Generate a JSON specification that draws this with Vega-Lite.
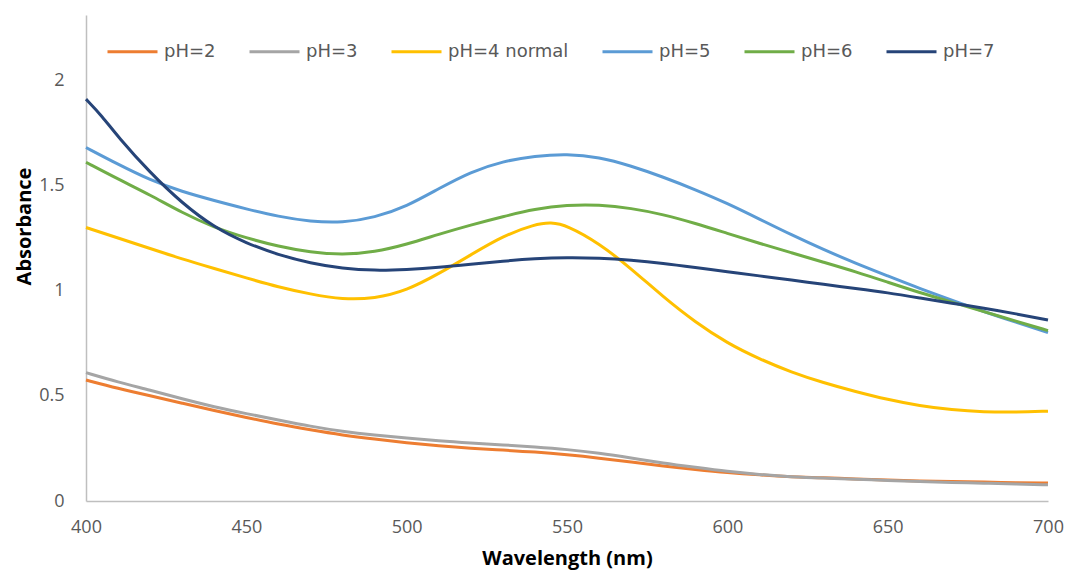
{
  "$schema": "https://vega.github.io/schema/vega-lite/v6.json",
  "width": 962,
  "height": 486,
  "autosize": "none",
  "padding": {"left": 86, "top": 15, "right": 21, "bottom": 71},
  "background": "white",
  "config": {"view": {"stroke": null}},
  "datasets": {
    "spectra": [
      {"s":"pH=2","w":400,"a":0.575},{"s":"pH=2","w":410,"a":0.535},{"s":"pH=2","w":420,"a":0.5},{"s":"pH=2","w":430,"a":0.465},{"s":"pH=2","w":440,"a":0.43},{"s":"pH=2","w":450,"a":0.397},{"s":"pH=2","w":460,"a":0.365},{"s":"pH=2","w":470,"a":0.338},{"s":"pH=2","w":480,"a":0.313},{"s":"pH=2","w":490,"a":0.294},{"s":"pH=2","w":500,"a":0.277},{"s":"pH=2","w":510,"a":0.262},{"s":"pH=2","w":520,"a":0.25},{"s":"pH=2","w":530,"a":0.242},{"s":"pH=2","w":540,"a":0.233},{"s":"pH=2","w":550,"a":0.22},{"s":"pH=2","w":560,"a":0.204},{"s":"pH=2","w":570,"a":0.185},{"s":"pH=2","w":580,"a":0.166},{"s":"pH=2","w":590,"a":0.15},{"s":"pH=2","w":600,"a":0.135},{"s":"pH=2","w":610,"a":0.124},{"s":"pH=2","w":620,"a":0.115},{"s":"pH=2","w":630,"a":0.11},{"s":"pH=2","w":640,"a":0.105},{"s":"pH=2","w":650,"a":0.1},{"s":"pH=2","w":660,"a":0.095},{"s":"pH=2","w":670,"a":0.092},{"s":"pH=2","w":680,"a":0.09},{"s":"pH=2","w":690,"a":0.087},{"s":"pH=2","w":700,"a":0.085},
      {"s":"pH=3","w":400,"a":0.61},{"s":"pH=3","w":410,"a":0.565},{"s":"pH=3","w":420,"a":0.527},{"s":"pH=3","w":430,"a":0.485},{"s":"pH=3","w":440,"a":0.447},{"s":"pH=3","w":450,"a":0.415},{"s":"pH=3","w":460,"a":0.385},{"s":"pH=3","w":470,"a":0.355},{"s":"pH=3","w":480,"a":0.33},{"s":"pH=3","w":490,"a":0.313},{"s":"pH=3","w":500,"a":0.3},{"s":"pH=3","w":510,"a":0.285},{"s":"pH=3","w":520,"a":0.275},{"s":"pH=3","w":530,"a":0.267},{"s":"pH=3","w":540,"a":0.257},{"s":"pH=3","w":550,"a":0.245},{"s":"pH=3","w":560,"a":0.228},{"s":"pH=3","w":570,"a":0.205},{"s":"pH=3","w":580,"a":0.18},{"s":"pH=3","w":590,"a":0.16},{"s":"pH=3","w":600,"a":0.14},{"s":"pH=3","w":610,"a":0.126},{"s":"pH=3","w":620,"a":0.115},{"s":"pH=3","w":630,"a":0.109},{"s":"pH=3","w":640,"a":0.104},{"s":"pH=3","w":650,"a":0.097},{"s":"pH=3","w":660,"a":0.092},{"s":"pH=3","w":670,"a":0.088},{"s":"pH=3","w":680,"a":0.085},{"s":"pH=3","w":690,"a":0.081},{"s":"pH=3","w":700,"a":0.077},
      {"s":"pH=4 normal","w":400,"a":1.3},{"s":"pH=4 normal","w":410,"a":1.25},{"s":"pH=4 normal","w":420,"a":1.2},{"s":"pH=4 normal","w":430,"a":1.15},{"s":"pH=4 normal","w":440,"a":1.105},{"s":"pH=4 normal","w":450,"a":1.06},{"s":"pH=4 normal","w":460,"a":1.017},{"s":"pH=4 normal","w":470,"a":0.983},{"s":"pH=4 normal","w":480,"a":0.958},{"s":"pH=4 normal","w":490,"a":0.962},{"s":"pH=4 normal","w":500,"a":1.0},{"s":"pH=4 normal","w":510,"a":1.08},{"s":"pH=4 normal","w":520,"a":1.17},{"s":"pH=4 normal","w":530,"a":1.26},{"s":"pH=4 normal","w":540,"a":1.315},{"s":"pH=4 normal","w":545,"a":1.325},{"s":"pH=4 normal","w":550,"a":1.31},{"s":"pH=4 normal","w":560,"a":1.225},{"s":"pH=4 normal","w":570,"a":1.105},{"s":"pH=4 normal","w":580,"a":0.97},{"s":"pH=4 normal","w":590,"a":0.85},{"s":"pH=4 normal","w":600,"a":0.75},{"s":"pH=4 normal","w":610,"a":0.675},{"s":"pH=4 normal","w":620,"a":0.612},{"s":"pH=4 normal","w":630,"a":0.562},{"s":"pH=4 normal","w":640,"a":0.52},{"s":"pH=4 normal","w":650,"a":0.482},{"s":"pH=4 normal","w":660,"a":0.452},{"s":"pH=4 normal","w":670,"a":0.433},{"s":"pH=4 normal","w":680,"a":0.423},{"s":"pH=4 normal","w":690,"a":0.422},{"s":"pH=4 normal","w":700,"a":0.427},
      {"s":"pH=5","w":400,"a":1.68},{"s":"pH=5","w":410,"a":1.6},{"s":"pH=5","w":420,"a":1.525},{"s":"pH=5","w":430,"a":1.47},{"s":"pH=5","w":440,"a":1.428},{"s":"pH=5","w":450,"a":1.388},{"s":"pH=5","w":460,"a":1.352},{"s":"pH=5","w":470,"a":1.328},{"s":"pH=5","w":480,"a":1.322},{"s":"pH=5","w":490,"a":1.347},{"s":"pH=5","w":500,"a":1.4},{"s":"pH=5","w":510,"a":1.485},{"s":"pH=5","w":520,"a":1.565},{"s":"pH=5","w":530,"a":1.615},{"s":"pH=5","w":540,"a":1.64},{"s":"pH=5","w":550,"a":1.65},{"s":"pH=5","w":560,"a":1.635},{"s":"pH=5","w":570,"a":1.593},{"s":"pH=5","w":580,"a":1.54},{"s":"pH=5","w":590,"a":1.48},{"s":"pH=5","w":600,"a":1.415},{"s":"pH=5","w":610,"a":1.34},{"s":"pH=5","w":620,"a":1.265},{"s":"pH=5","w":630,"a":1.195},{"s":"pH=5","w":640,"a":1.13},{"s":"pH=5","w":650,"a":1.07},{"s":"pH=5","w":660,"a":1.01},{"s":"pH=5","w":670,"a":0.955},{"s":"pH=5","w":680,"a":0.9},{"s":"pH=5","w":690,"a":0.85},{"s":"pH=5","w":700,"a":0.8},
      {"s":"pH=6","w":400,"a":1.61},{"s":"pH=6","w":410,"a":1.53},{"s":"pH=6","w":420,"a":1.455},{"s":"pH=6","w":430,"a":1.37},{"s":"pH=6","w":440,"a":1.3},{"s":"pH=6","w":450,"a":1.25},{"s":"pH=6","w":460,"a":1.21},{"s":"pH=6","w":470,"a":1.182},{"s":"pH=6","w":480,"a":1.17},{"s":"pH=6","w":490,"a":1.183},{"s":"pH=6","w":500,"a":1.22},{"s":"pH=6","w":510,"a":1.268},{"s":"pH=6","w":520,"a":1.312},{"s":"pH=6","w":530,"a":1.352},{"s":"pH=6","w":540,"a":1.388},{"s":"pH=6","w":550,"a":1.407},{"s":"pH=6","w":560,"a":1.408},{"s":"pH=6","w":570,"a":1.392},{"s":"pH=6","w":580,"a":1.362},{"s":"pH=6","w":590,"a":1.32},{"s":"pH=6","w":600,"a":1.272},{"s":"pH=6","w":610,"a":1.225},{"s":"pH=6","w":620,"a":1.18},{"s":"pH=6","w":630,"a":1.135},{"s":"pH=6","w":640,"a":1.09},{"s":"pH=6","w":650,"a":1.04},{"s":"pH=6","w":660,"a":0.99},{"s":"pH=6","w":670,"a":0.945},{"s":"pH=6","w":680,"a":0.9},{"s":"pH=6","w":690,"a":0.855},{"s":"pH=6","w":700,"a":0.81},
      {"s":"pH=7","w":400,"a":1.91},{"s":"pH=7","w":405,"a":1.83},{"s":"pH=7","w":410,"a":1.73},{"s":"pH=7","w":420,"a":1.56},{"s":"pH=7","w":430,"a":1.415},{"s":"pH=7","w":440,"a":1.3},{"s":"pH=7","w":450,"a":1.225},{"s":"pH=7","w":460,"a":1.17},{"s":"pH=7","w":470,"a":1.13},{"s":"pH=7","w":480,"a":1.105},{"s":"pH=7","w":490,"a":1.095},{"s":"pH=7","w":500,"a":1.1},{"s":"pH=7","w":510,"a":1.11},{"s":"pH=7","w":520,"a":1.125},{"s":"pH=7","w":530,"a":1.14},{"s":"pH=7","w":540,"a":1.152},{"s":"pH=7","w":550,"a":1.158},{"s":"pH=7","w":560,"a":1.155},{"s":"pH=7","w":570,"a":1.145},{"s":"pH=7","w":580,"a":1.13},{"s":"pH=7","w":590,"a":1.11},{"s":"pH=7","w":600,"a":1.09},{"s":"pH=7","w":610,"a":1.07},{"s":"pH=7","w":620,"a":1.05},{"s":"pH=7","w":630,"a":1.03},{"s":"pH=7","w":640,"a":1.01},{"s":"pH=7","w":650,"a":0.99},{"s":"pH=7","w":660,"a":0.965},{"s":"pH=7","w":670,"a":0.94},{"s":"pH=7","w":680,"a":0.917},{"s":"pH=7","w":690,"a":0.89},{"s":"pH=7","w":700,"a":0.86}
    ]
  },
  "data": {"name": "spectra"},
  "mark": {"type": "line", "strokeWidth": 3, "interpolate": "basis"},
  "encoding": {
    "x": {
      "field": "w", "type": "quantitative",
      "scale": {"domain": [400, 700], "nice": false, "zero": false},
      "axis": {
        "title": "Wavelength (nm)",
        "values": [400, 450, 500, 550, 600, 650, 700],
        "grid": false, "ticks": false, "domainColor": "#bfbfbf", "domainWidth": 1.5,
        "labelFont": "Open Sans", "labelFontSize": 18, "labelColor": "#595959",
        "labelPadding": 17, "labelFlush": false,
        "titleFont": "Open Sans", "titleFontWeight": "bold", "titleFontSize": 20, "titleColor": "#000000",
        "titleBaseline": "alphabetic", "titleY": 63
      }
    },
    "y": {
      "field": "a", "type": "quantitative",
      "scale": {"domain": [0, 2.31], "nice": false},
      "axis": {
        "title": "Absorbance",
        "values": [0, 0.5, 1, 1.5, 2], "format": "~g",
        "grid": false, "ticks": false, "domainColor": "#bfbfbf", "domainWidth": 1.5,
        "labelFont": "Open Sans", "labelFontSize": 18, "labelColor": "#595959",
        "labelPadding": 22,
        "titleFont": "Open Sans", "titleFontWeight": "bold", "titleFontSize": 20, "titleColor": "#000000",
        "titleAngle": -90, "titleBaseline": "alphabetic", "titleAlign": "center", "titleX": -56, "titleY": 211
      }
    },
    "color": {
      "field": "s", "type": "nominal",
      "scale": {
        "domain": ["pH=2", "pH=3", "pH=4 normal", "pH=5", "pH=6", "pH=7"],
        "range": ["#ED7D31", "#A5A5A5", "#FFC000", "#5B9BD5", "#70AD47", "#264478"]
      },
      "legend": {
        "title": null, "orient": "none", "direction": "horizontal",
        "legendX": 20, "legendY": 10,
        "symbolType": "stroke", "symbolSize": 2500, "symbolStrokeWidth": 3,
        "labelFont": "DejaVu Sans", "labelFontSize": 18, "labelColor": "#595959",
        "labelOffset": 5, "columnPadding": 27
      }
    }
  }
}
